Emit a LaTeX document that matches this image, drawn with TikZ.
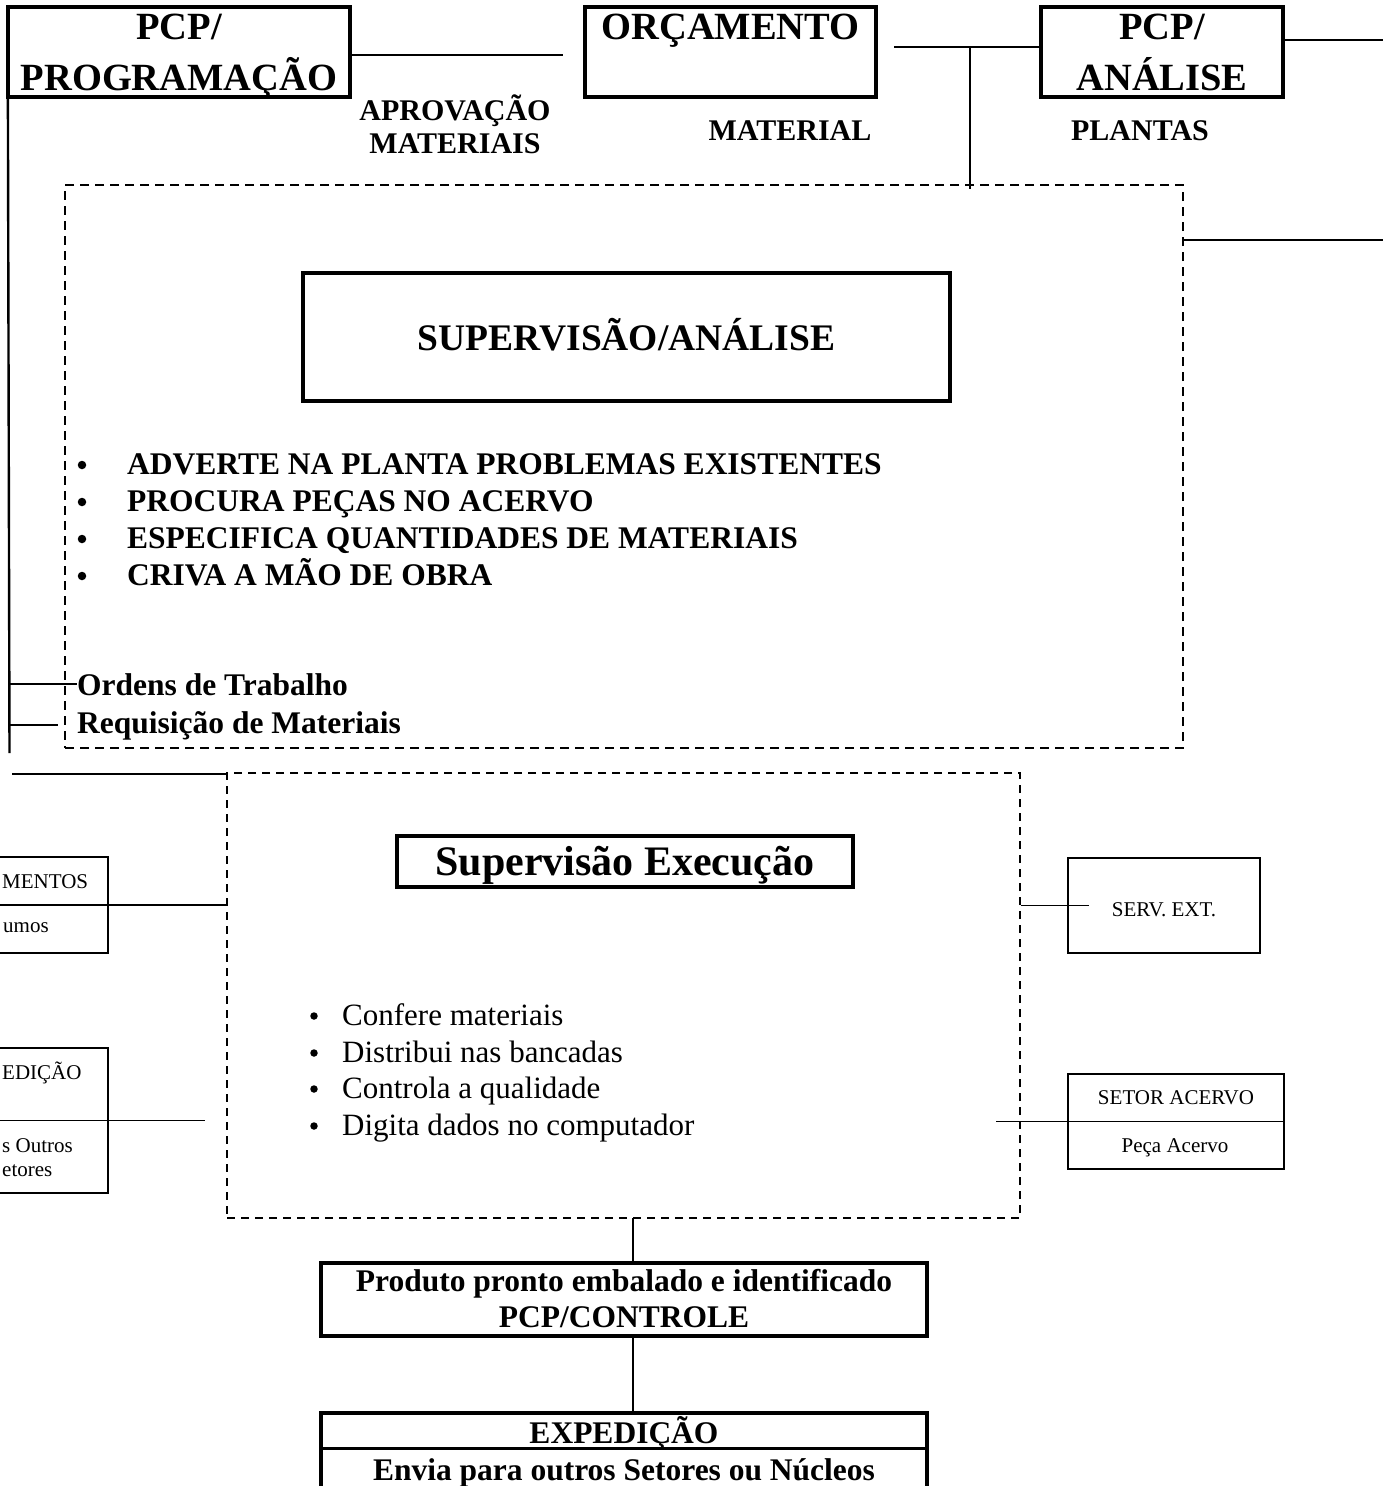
\documentclass[tikz,border=0pt]{standalone}
\usepackage{fontspec}
\setmainfont{Liberation Serif}
\newcommand{\setfs}[1]{\fontsize{#1}{#1}\selectfont}

\tikzset{
  heavybox/.style={draw, line width=3.2pt, inner sep=0pt},
  lightbox/.style={draw, line width=1.6pt, inner sep=0pt},
  zoneA/.style={draw, line width=2.6pt, dash pattern=on 9pt off 6pt, inner sep=0pt},
  zoneB/.style={draw, line width=1.4pt, dash pattern=on 8pt off 6pt, inner sep=0pt},
  link/.style={line width=1.8pt},
  divider/.style={line width=1.6pt},
  txt/.style={inner sep=0pt, anchor=base},
  title/.style={txt, font=\bfseries\setfs{38.5}},
  tag/.style={txt, font=\bfseries\setfs{30}},
  itemb/.style={txt, anchor=base west, font=\bfseries\setfs{31.5}},
  itemr/.style={txt, anchor=base west, font=\setfs{31}},
  dotb/.style={circle, fill, inner sep=0pt, minimum size=8.5pt},
  dotr/.style={circle, fill, inner sep=0pt, minimum size=7.5pt},
  small/.style={txt, font=\setfs{21}},
  smallw/.style={txt, anchor=base west, font=\setfs{21}},
}

\begin{document}
\begin{tikzpicture}[x=1pt,y=-1pt]
\useasboundingbox (0,0) rectangle (1383,1486);
\clip (0,0) rectangle (1383,1486);

% ---- top row ----
\node[heavybox, minimum width=342pt, minimum height=90pt] (prog) at (179,52) {};
\node[title] (progA) at (179,39) {PCP/};
\node[title] (progB) at (179,90) {PROGRAMAÇÃO};

\node[heavybox, minimum width=291pt, minimum height=90pt] (orc) at (730.5,52) {};
\node[title] (orcA) at (730.5,39) {ORÇAMENTO};

\node[heavybox, minimum width=242pt, minimum height=90pt] (anal) at (1162,52) {};
\node[title] (analA) at (1162,39) {PCP/};
\node[title] (analB) at (1162,90) {ANÁLISE};

\node[tag] (aprov) at (455,120) {APROVAÇÃO};
\node[tag] (mats) at (455,153) {MATERIAIS};
\node[tag] (mat) at (790,140) {MATERIAL};
\node[tag] (plan) at (1140,140) {PLANTAS};

\coordinate (c1) at (563,55);
\coordinate (c2) at (894,47);
\coordinate (c3) at (970,47);
\coordinate (c4) at (1383,40);
\coordinate (c5) at (1383,240);
\coordinate (c6) at (9.5,753);

\draw[link] (prog.east |- c1) -- (c1);
\draw[link] (c2) -- (c2 -| anal.west);
\draw[link] (anal.east |- c4) -- (c4);

% ---- analysis zone ----
\node[zoneA, minimum width=1118pt, minimum height=563pt] (zone1) at (624,466.5) {};
\draw[link] (c3) -- ([yshift=-5pt]c3 |- zone1.north);
\draw[link] (c5 -| zone1.east) -- (c5);

\node[heavybox, minimum width=647pt, minimum height=128pt] (supan) at (626.5,337) {};
\node[txt, font=\bfseries\setfs{37.5}] (supanA) at (626.5,350) {SUPERVISÃO/ANÁLISE};

\node[dotb] (b1) at (82,465) {};
\node[dotb] (b2) at (82,502) {};
\node[dotb] (b3) at (82,539) {};
\node[dotb] (b4) at (82,576) {};
\node[itemb] (i1) at (127,474) {ADVERTE NA PLANTA PROBLEMAS EXISTENTES};
\node[itemb] (i2) at (127,511) {PROCURA PEÇAS NO ACERVO};
\node[itemb] (i3) at (127,548) {ESPECIFICA QUANTIDADES DE MATERIAIS};
\node[itemb] (i4) at (127,585) {CRIVA A MÃO DE OBRA};

\node[itemb] (ordens) at (77,695) {Ordens de Trabalho};
\node[itemb] (requis) at (77,733) {Requisição de Materiais};

\draw[line width=2.4pt] ([xshift=1.5pt]prog.south west) -- (c6);
\draw[link] (ordens.west -| c6) -- (ordens.west);
\draw[link] (requis.west -| c6) -- ([xshift=-19pt]requis.west);

% ---- execution zone ----
\node[zoneB, minimum width=793pt, minimum height=445pt] (zone2) at (623.5,995.5) {};
\coordinate (c7) at (12,774);
\draw[link] (c7) -- (c7 -| zone2.west);

\node[heavybox, minimum width=456pt, minimum height=51pt] (supex) at (625,861.5) {};
\node[txt, font=\bfseries\setfs{42}] (supexA) at (625,875) {Supervisão Execução};

\node[dotr] (d1) at (314,1016) {};
\node[dotr] (d2) at (314,1053) {};
\node[dotr] (d3) at (314,1089) {};
\node[dotr] (d4) at (314,1126) {};
\node[itemr] (j1) at (342,1025) {Confere materiais};
\node[itemr] (j2) at (342,1062) {Distribui nas bancadas};
\node[itemr] (j3) at (342,1098) {Controla a qualidade};
\node[itemr] (j4) at (342,1135) {Digita dados no computador};

% left side boxes
\node[lightbox, minimum width=168pt, minimum height=96pt] (left1) at (24,905) {};
\draw[divider] (left1.west) -- (left1.east);
\node[smallw] (left1A) at (2,888) {MENTOS};
\node[smallw] (left1B) at (3,932) {umos};
\draw[link] (left1.east) -- (left1.east -| zone2.west);

\node[lightbox, minimum width=168pt, minimum height=145pt] (left2) at (24,1120.5) {};
\draw[divider] (left2.west) -- (left2.east);
\node[smallw] (left2A) at (2,1079) {EDIÇÃO};
\node[smallw] (left2B) at (2,1152) {s Outros};
\node[smallw] (left2C) at (2,1176) {etores};
\coordinate (c8) at (205,1120.5);
\draw[link] (left2.east) -- (c8);

% right side boxes
\node[lightbox, minimum width=192pt, minimum height=95pt] (serv) at (1164,905.5) {};
\node[small] (servA) at (1164,916) {SERV. EXT.};
\draw[link] (serv.west -| zone2.east) -- ([xshift=22pt]serv.west);

\node[lightbox, minimum width=216pt, minimum height=95pt] (setor) at (1176,1121.5) {};
\draw[divider] (setor.west) -- (setor.east);
\node[small] (setorA) at (1176,1104) {SETOR ACERVO};
\node[small] (setorB) at (1175,1152) {Peça Acervo};
\coordinate (c9) at (996,1121.5);
\draw[link] (c9) -- (setor.west);

% ---- bottom chain ----
\node[heavybox, minimum width=606pt, minimum height=73pt] (prod) at (624,1299.5) {};
\node[txt, font=\bfseries\setfs{31.5}] (prodA) at (624,1291) {Produto pronto embalado e identificado};
\node[txt, font=\bfseries\setfs{31.5}] (prodB) at (624,1327) {PCP/CONTROLE};

\node[heavybox, minimum width=606pt, minimum height=107pt] (exp) at (624,1466.5) {};
\draw[line width=3.2pt] ([yshift=-37pt]exp.north west) -- ([yshift=-37pt]exp.north east);
\node[txt, font=\bfseries\setfs{31.5}] (expA) at (624,1443) {EXPEDIÇÃO};
\node[txt, font=\bfseries\setfs{31.5}] (expB) at (624,1480) {Envia para outros Setores ou Núcleos};

\coordinate (c10) at (633,1218);
\draw[link] (c10) -- (c10 |- prod.north);
\draw[link] (c10 |- prod.south) -- (c10 |- exp.north);
\end{tikzpicture}
\end{document}
